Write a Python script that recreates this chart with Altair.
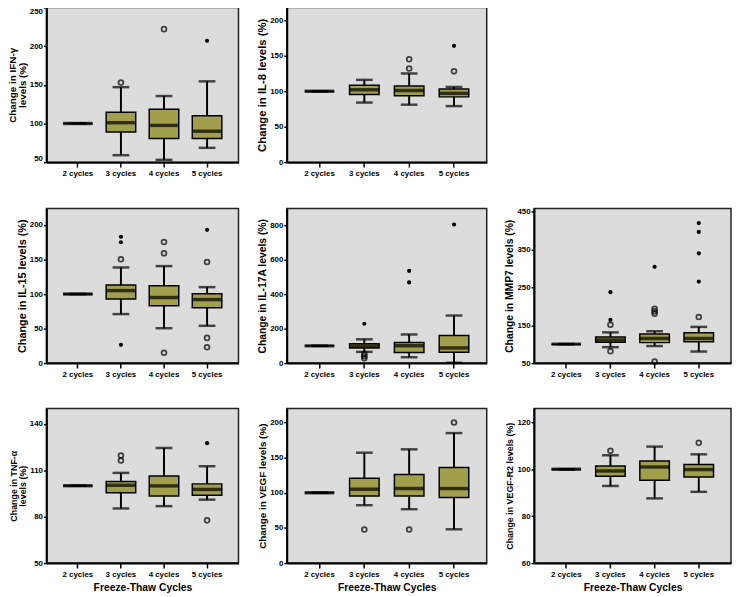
import altair as alt
import pandas as pd

CYCLES = ["2 cycles", "3 cycles", "4 cycles", "5 cycles"]
OLIVE = "#a19f4b"
BG = "#dcdcdc"

# ---- IFN-gamma ----
IFN_Q1 = [100, 89, 80.5, 80.5]
IFN_MED = [100, 101, 97.5, 90]
IFN_Q3 = [100, 114.5, 118.5, 110]
IFN_LO = [100, 59, 53, 68.5]
IFN_HI = [100, 147, 135.5, 154.5]
IFN_OUT = [("3 cycles", 153, "o"), ("4 cycles", 222, "o"), ("5 cycles", 207, "*")]

# ---- IL-8 ----
IL8_Q1 = [100, 95.5, 93.5, 92]
IL8_MED = [100, 102, 101, 97]
IL8_Q3 = [100, 108.5, 107.5, 103]
IL8_LO = [100, 84, 81, 79]
IL8_HI = [100, 116, 125, 106]
IL8_OUT = [("4 cycles", 145, "o"), ("4 cycles", 132, "o"), ("5 cycles", 128, "o"), ("5 cycles", 164, "*")]

# ---- IL-15 ----
IL15_Q1 = [100, 93, 83, 80]
IL15_MED = [100, 105, 95, 92]
IL15_Q3 = [100, 113, 112, 100.5]
IL15_LO = [100, 71, 50.5, 54]
IL15_HI = [100, 138.5, 140.5, 110]
IL15_OUT = [("3 cycles", 150.5, "o"), ("3 cycles", 183, "*"), ("3 cycles", 175, "*"), ("3 cycles", 26.5, "*"),
            ("4 cycles", 175.5, "o"), ("4 cycles", 159, "o"), ("4 cycles", 15, "o"),
            ("5 cycles", 146.5, "o"), ("5 cycles", 36.5, "o"), ("5 cycles", 23, "o"), ("5 cycles", 193, "*")]

# ---- IL-17A ----
IL17_Q1 = [100, 88, 61, 63]
IL17_MED = [100, 98, 101, 88]
IL17_Q3 = [100, 112, 120, 160]
IL17_LO = [100, 65, 34, 2]
IL17_HI = [100, 138, 166, 276]
IL17_OUT = [("3 cycles", 228, "*"), ("3 cycles", 52, "o"), ("3 cycles", 40, "o"), ("3 cycles", 28, "o"),
            ("4 cycles", 535, "*"), ("4 cycles", 468, "*"), ("5 cycles", 804, "*")]

# ---- MMP7 ----
MMP7_Q1 = [100, 105, 104, 106.5]
MMP7_MED = [100, 111, 115, 115]
MMP7_Q3 = [100, 119, 126.5, 130]
MMP7_LO = [100, 92, 95, 80.5]
MMP7_HI = [100, 131, 134, 145.5]
MMP7_OUT = [("3 cycles", 237, "*"), ("3 cycles", 164, "*"), ("3 cycles", 151, "o"), ("3 cycles", 81.5, "o"),
            ("4 cycles", 304, "*"), ("4 cycles", 193.5, "o"), ("4 cycles", 186.5, "o"), ("4 cycles", 180, "o"),
            ("4 cycles", 54, "o"),
            ("5 cycles", 419.5, "*"), ("5 cycles", 396, "*"), ("5 cycles", 339.5, "*"), ("5 cycles", 265, "*"),
            ("5 cycles", 171.5, "o")]

# ---- TNF-alpha ----
TNF_Q1 = [100, 95.5, 93.4, 93.9]
TNF_MED = [100, 100.3, 99.9, 97.6]
TNF_Q3 = [100, 102.8, 106.3, 101.2]
TNF_LO = [100, 85.3, 86.8, 91]
TNF_HI = [100, 108.3, 124.4, 112.6]
TNF_OUT = [("3 cycles", 119.5, "o"), ("3 cycles", 116.3, "o"), ("5 cycles", 127.5, "*"), ("5 cycles", 77.6, "o")]

# ---- VEGF ----
VEGF_Q1 = [100, 95.3, 95.3, 93.4]
VEGF_MED = [100, 105, 106, 106]
VEGF_Q3 = [100, 120.8, 126, 136]
VEGF_LO = [100, 82.3, 76.6, 48]
VEGF_HI = [100, 157, 161.8, 184.9]
VEGF_OUT = [("3 cycles", 47.7, "o"), ("4 cycles", 47.7, "o"), ("5 cycles", 200, "o")]

# ---- VEGF-R2 ----
VR2_Q1 = [100, 97, 95.3, 96.7]
VR2_MED = [100, 99.3, 101, 99.9]
VR2_Q3 = [100, 101.4, 103.6, 102.1]
VR2_LO = [100, 92.9, 87.6, 90.4]
VR2_HI = [100, 106, 109.7, 106.4]
VR2_OUT = [("3 cycles", 107.9, "o"), ("5 cycles", 111.3, "o")]

PANELS = [
    dict(title=["Change in IFN-γ", "levels (%)"], tsize=10, domain=[50, 250], ticks=[50, 100, 150, 200, 250],
         q1=IFN_Q1, med=IFN_MED, q3=IFN_Q3, lo=IFN_LO, hi=IFN_HI, out=IFN_OUT, w=195, flush=True),
    dict(title="Change in IL-8 levels (%)", tsize=11.5, domain=[0, 218], ticks=[0, 50, 100, 150, 200],
         q1=IL8_Q1, med=IL8_MED, q3=IL8_Q3, lo=IL8_LO, hi=IL8_HI, out=IL8_OUT, w=203),
    None,
    dict(title="Change in IL-15 levels (%)", tsize=11, domain=[0, 224], ticks=[0, 50, 100, 150, 200],
         q1=IL15_Q1, med=IL15_MED, q3=IL15_Q3, lo=IL15_LO, hi=IL15_HI, out=IL15_OUT, w=195),
    dict(title="Change in IL-17A levels (%)", tsize=10.5, domain=[0, 897], ticks=[0, 200, 400, 600, 800],
         q1=IL17_Q1, med=IL17_MED, q3=IL17_Q3, lo=IL17_LO, hi=IL17_HI, out=IL17_OUT, w=203),
    dict(title="Change in MMP7 levels (%)", tsize=10.5, domain=[50, 458], ticks=[50, 150, 250, 350, 450],
         q1=MMP7_Q1, med=MMP7_MED, q3=MMP7_Q3, lo=MMP7_LO, hi=MMP7_HI, out=MMP7_OUT, w=200),
    dict(title=["Change in TNF-α", "levels (%)"], tsize=9, domain=[50, 150], ticks=[50, 80, 110, 140],
         q1=TNF_Q1, med=TNF_MED, q3=TNF_Q3, lo=TNF_LO, hi=TNF_HI, out=TNF_OUT, w=195),
    dict(title="Change in VEGF levels (%)", tsize=10, domain=[0, 220], ticks=[0, 50, 100, 150, 200],
         q1=VEGF_Q1, med=VEGF_MED, q3=VEGF_Q3, lo=VEGF_LO, hi=VEGF_HI, out=VEGF_OUT, w=203),
    dict(title="Change in VEGF-R2 levels (%)", tsize=9, domain=[60, 126], ticks=[60, 80, 100, 120],
         q1=VR2_Q1, med=VR2_MED, q3=VR2_Q3, lo=VR2_LO, hi=VR2_HI, out=VR2_OUT, w=200),
]

H = 157
FONT = "Liberation Sans"


def make_panel(p, bottom):
    df = pd.DataFrame({"cycle": CYCLES, "q1": p["q1"], "med": p["med"], "q3": p["q3"],
                       "lo": p["lo"], "hi": p["hi"]})
    od = pd.DataFrame(p["out"], columns=["cycle", "value", "kind"])
    xkw = dict(labelAngle=0, labelFontSize=8, labelPadding=3, tickSize=5)
    if bottom:
        xkw.update(title="Freeze-Thaw Cycles", titleFontSize=10.5, titlePadding=4)
    else:
        xkw.update(title=None)
    x = alt.X("cycle:N", sort=CYCLES, axis=alt.Axis(**xkw),
              scale=alt.Scale(domain=CYCLES, paddingInner=0, paddingOuter=0.23))
    yscale = alt.Scale(domain=p["domain"], nice=False, zero=False)
    ykw = dict(values=p["ticks"], titleFontSize=p["tsize"], titlePadding=2, labelPadding=1,
               tickSize=3, titleLineHeight=p["tsize"] + 0.5)
    if p.get("flush"):
        ykw.update(labelFlush=True)
    yaxis = alt.Axis(**ykw)

    def Y(f):
        return alt.Y(f + ":Q", scale=yscale, axis=yaxis, title=p["title"])

    base = alt.Chart(df)
    whisk = base.mark_rule(color="black", strokeWidth=2).encode(x=x, y=Y("lo"), y2="hi")
    box = base.mark_bar(size=30, fill=OLIVE, stroke="black", strokeWidth=1.5).encode(x=x, y=Y("q1"), y2="q3")
    med = base.mark_tick(size=30, thickness=3.5, color="black").encode(x=x, y=Y("med"))
    caplo = base.mark_tick(size=17, thickness=2.5, color="black").encode(x=x, y=Y("lo"))
    caphi = base.mark_tick(size=17, thickness=2.5, color="black").encode(x=x, y=Y("hi"))
    ob = alt.Chart(od)
    oc = ob.transform_filter(alt.datum.kind == "o").mark_point(
        shape="circle", filled=False, size=24, strokeWidth=1.8, color="black").encode(x=x, y=Y("value"))
    os_ = ob.transform_filter(alt.datum.kind == "*").mark_point(
        shape="circle", filled=True, size=18, opacity=1, color="black").encode(x=x, y=Y("value"))
    return alt.layer(whisk, box, med, caplo, caphi, oc, os_).properties(
        width=p["w"], height=H,
        view=alt.ViewBackground(fill=BG, stroke="#222222", strokeWidth=1.5))


def blank(w):
    d = pd.DataFrame({"a": [0]})
    return alt.Chart(d).mark_point(opacity=0).encode(
        x=alt.X("a:Q", axis=None), y=alt.Y("a:Q", axis=None)).properties(
        width=w, height=H, view=alt.ViewBackground(fill="white", stroke="transparent"))


charts = []
for i, p in enumerate(PANELS):
    if p is None:
        charts.append(blank(200))
    else:
        charts.append(make_panel(p, i >= 6))

chart = alt.concat(*charts, columns=3, spacing={"row": 28, "column": 16}).properties(
    padding={"left": -2, "top": -7, "right": 0, "bottom": 0}
).configure_axis(
    domainColor="black", domainWidth=2, tickColor="black", tickWidth=1.5,
    labelFont=FONT, labelFontWeight="bold", labelColor="black", labelFontSize=8,
    titleFont=FONT, titleFontWeight="bold", titleColor="black", grid=False, tickSize=4
).configure_view(stroke="transparent")

chart.save("out.html", embed_options={"renderer": "svg", "actions": False})
